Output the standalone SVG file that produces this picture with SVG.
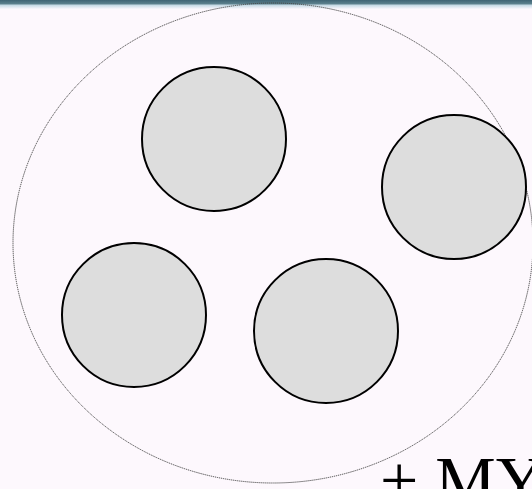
<svg xmlns="http://www.w3.org/2000/svg" width="532" height="489" viewBox="0 0 532 489">
<style>
.n{fill:#dddddd;stroke:#000;stroke-width:2}
.outer{fill:none;stroke:#444;stroke-width:1;stroke-dasharray:1.2 0.8}
.t{font-family:"Liberation Serif",serif;font-size:68px;fill:#000}
</style>
<defs>
<linearGradient id="top" x1="0" y1="0" x2="0" y2="1">
<stop offset="0" stop-color="#3f6474"/>
<stop offset="0.4" stop-color="#5a7f8c"/>
<stop offset="0.6" stop-color="#c8dbe6"/>
<stop offset="1" stop-color="#fbf7fd"/>
</linearGradient>
</defs>
<rect width="532" height="489" fill="#fdf8fd"/>
<rect width="532" height="9" fill="url(#top)"/>
<g id="connectors"></g>
<g id="boundary"><ellipse class="outer" cx="273" cy="243" rx="260" ry="240"/></g>
<g id="node1"><circle class="n" cx="214" cy="139" r="72"/></g>
<g id="node2"><circle class="n" cx="454" cy="187" r="72"/></g>
<g id="node3"><circle class="n" cx="134" cy="315" r="72"/></g>
<g id="node4"><circle class="n" cx="326" cy="331" r="72"/></g>
<g id="label"><text class="t" x="380" y="503">+ MY</text></g>
</svg>
